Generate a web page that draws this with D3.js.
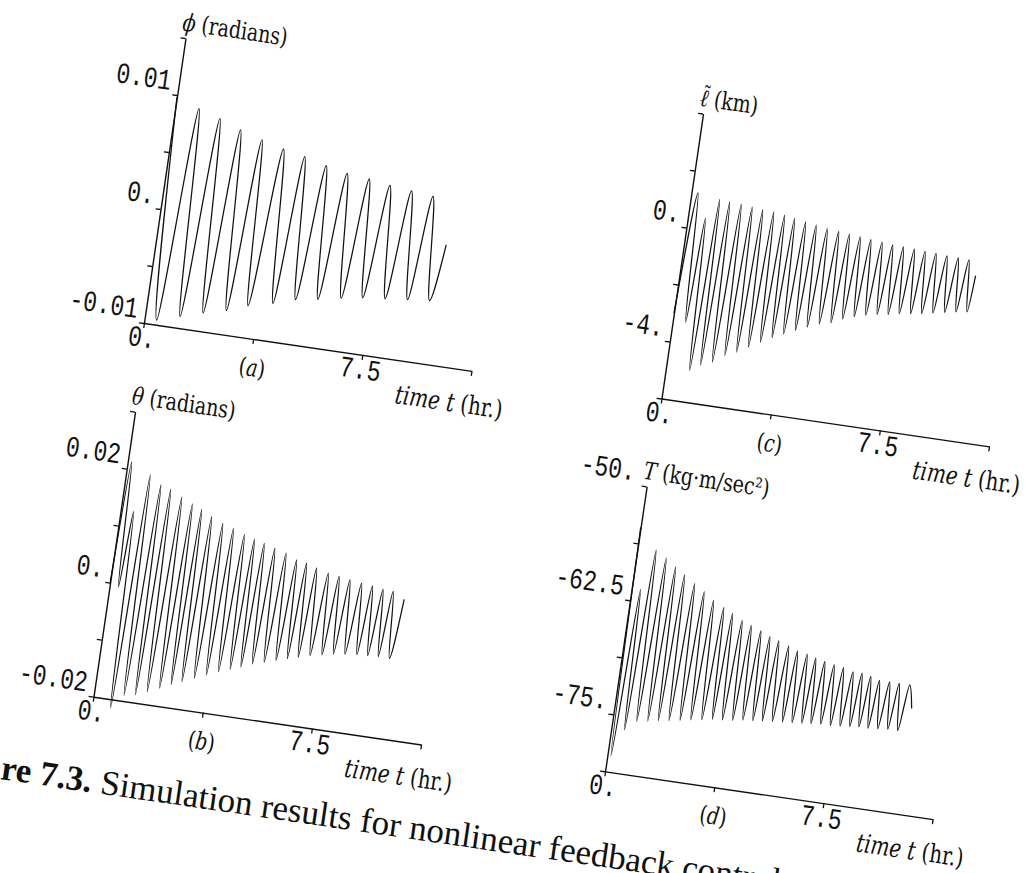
<!DOCTYPE html>
<html>
<head>
<meta charset="utf-8">
<script src="https://cdn.jsdelivr.net/npm/d3@7"></script>
<style>
  body { margin: 0; background: #fff; }
  svg { display: block; }
</style>
</head>
<body>
<svg id="fig" width="1029" height="873"></svg>
<script>
// ---- data (extrema of each trace, hours / units) ----
const timeTicks = [0, 3.75, 7.5, 11.25];
const timeTickText = ["0.", "", "7.5", ""];

// (a) phi (radians)
const phiTicks = [-0.01, -0.005, 0, 0.005, 0.01, 0.015];
const phiTickText = ["-0.01", "", "0.", "", "0.01", ""];
const phiTimes = [0, 0.41, 0.80, 1.18, 1.55, 1.94, 2.30, 2.71, 3.07, 3.41, 3.84, 4.24, 4.59, 4.98,
  5.36, 5.73, 6.10, 6.51, 6.87, 7.23, 7.60, 7.99, 8.35, 8.75, 9.10, 9.49, 9.78];
const phiValues = [0.0098, -0.0096, 0.0091, -0.0090, 0.0085, -0.0084, 0.0078, -0.0079, 0.0072, -0.0072,
  0.0067, -0.0067, 0.0063, -0.0061, 0.0058, -0.0058, 0.0054, -0.0054, 0.0052, -0.0051, 0.0049, -0.0049,
  0.0047, -0.0047, 0.0045, -0.0045, 0.0005];

// (b) theta (radians)
const thetaTicks = [-0.02, -0.01, 0, 0.01, 0.02, 0.03];
const thetaTickText = ["-0.02", "", "0.", "", "0.02", ""];
const thetaTimes = [0, 0.13, 0.30, 0.44, 0.63,
  0.82, 1.02, 1.23, 1.40, 1.58, 1.78, 1.99, 2.18, 2.38, 2.55, 2.72, 2.90, 3.09, 3.30, 3.50, 3.69,
  3.88, 4.08, 4.28, 4.46, 4.64, 4.81, 4.99, 5.18, 5.37, 5.57, 5.77, 5.96, 6.16, 6.33, 6.51, 6.69,
  6.87, 7.08, 7.29, 7.48, 7.67, 7.86, 8.05, 8.25, 8.46, 8.65, 8.84, 9.02, 9.21, 9.38, 9.56, 9.76, 9.97];
const thetaValues = [0.000, 0.0213, -0.0005, 0.0128, -0.0215,
  0.0195, -0.0190, 0.0181, -0.0186, 0.0176, -0.0178, 0.0165, -0.0169, 0.0156, -0.0160, 0.0149, -0.0152,
  0.0139, -0.0143, 0.0130, -0.0134, 0.0124, -0.0126, 0.0116, -0.0119, 0.0111, -0.0112, 0.0106, -0.0104,
  0.0100, -0.0098, 0.0095, -0.0092, 0.0086, -0.0086, 0.0083, -0.0081, 0.0077, -0.0075, 0.0071, -0.0071,
  0.0068, -0.0067, 0.0065, -0.0064, 0.0062, -0.0062, 0.0060, -0.0061, 0.0057, -0.0060, 0.0056, -0.0060, 0.0045];

// (c) l~ (km)
const ellTicks = [-6, -4, -2, 0, 2, 4];
const ellTickText = ["", "-4.", "", "0.", "", ""];
const ellTimes = [0, 0.22, 0.44, 0.59, 0.81,
  0.98, 1.15, 1.33, 1.53, 1.73, 1.92, 2.11, 2.30, 2.48, 2.67, 2.86, 3.05, 3.24, 3.42, 3.59, 3.79,
  3.98, 4.17, 4.35, 4.55, 4.74, 4.94, 5.14, 5.33, 5.51, 5.70, 5.89, 6.08, 6.26, 6.46, 6.65, 6.84,
  7.02, 7.21, 7.39, 7.58, 7.77, 7.96, 8.14, 8.33, 8.52, 8.71, 8.90, 9.10, 9.29, 9.48, 9.66, 9.85, 9.96];
const ellValues = [-3.0, 1.25, -3.25, 0.41, -4.89,
  1.13, -4.66, 1.10, -4.49, 1.08, -4.20, 1.04, -4.03, 1.00, -3.80, 0.97, -3.57, 0.92, -3.36, 0.85, -3.17,
  0.79, -2.99, 0.73, -2.82, 0.67, -2.65, 0.63, -2.54, 0.59, -2.36, 0.55, -2.23, 0.51, -2.11, 0.48, -2.03,
  0.44, -1.97, 0.42, -1.90, 0.40, -1.84, 0.38, -1.78, 0.36, -1.70, 0.33, -1.62, 0.32, -1.55, 0.30, -1.49, -0.2];

// (d) T (kg m / sec^2)
const tensionTicks = [-81.25, -75, -68.75, -62.5, -56.25, -50];
const tensionTickText = ["", "-75.", "", "-62.5", "", "-50."];
const tensionTimes = [0, 0.12, 0.30, 0.45,
  0.63, 0.82, 1.01, 1.19, 1.37, 1.54, 1.71, 1.90, 2.09, 2.27, 2.45, 2.63, 2.81, 3.00, 3.19, 3.35,
  3.51, 3.69, 3.87, 4.04, 4.20, 4.38, 4.55, 4.72, 4.88, 5.04, 5.20, 5.38, 5.56, 5.72, 5.88, 6.05,
  6.22, 6.38, 6.53, 6.69, 6.85, 7.02, 7.18, 7.35, 7.51, 7.68, 7.85, 8.01, 8.16, 8.32, 8.47, 8.63,
  8.78, 8.96, 9.13, 9.30, 9.46, 9.64, 9.82, 10.0];
const tensionValues = [-54.5, -79.5, -61.2, -76.5,
  -56.7, -75.4, -57.4, -75.2, -58.2, -75.0, -58.9, -74.8, -59.7, -74.6, -60.4, -74.4, -61.2, -74.2, -61.8, -74.0,
  -62.3, -73.9, -62.9, -73.8, -63.3, -73.6, -63.7, -73.5, -64.2, -73.4, -64.5, -73.3, -64.9, -73.2, -65.3, -73.1,
  -65.5, -73.0, -65.8, -72.9, -66.0, -72.8, -66.2, -72.8, -66.4, -72.7, -66.7, -72.6, -66.7, -72.5, -66.9, -72.5,
  -67.2, -72.4, -67.2, -72.3, -67.2, -72.3, -67.2, -69.7];

// ---- layout ----
const axisW = 331, axisH = 288;
const stretch = 1.28;          // figure lettering is taller than wide in the scan
const monoFont = "'Liberation Mono', 'Courier New', monospace";
const serifFont = "'DejaVu Serif', serif";

const svg = d3.select("#fig");
// whole page is scanned at a tilt
const page = svg.append("g").attr("transform", "translate(144,323) rotate(8.3)");

const tx = d3.scaleLinear().domain([0, 11.25]).range([0, axisW]);

const panels = [
  { ox: 0, oy: 0, ticks: phiTicks, text: phiTickText, times: phiTimes, values: phiValues, tag: "a",
    symbol: "ϕ", unit: " (radians)", tilde: false, topLabelX: -8 },
  { ox: 4, oy: 377, ticks: thetaTicks, text: thetaTickText, times: thetaTimes, values: thetaValues, tag: "b",
    symbol: "θ", unit: " (radians)", tilde: false, topLabelX: -8 },
  { ox: 523, oy: 0, ticks: ellTicks, text: ellTickText, times: ellTimes, values: ellValues, tag: "c",
    symbol: "ℓ", unit: " (km)", tilde: true, topLabelX: -8 },
  { ox: 521, oy: 377, ticks: tensionTicks, text: tensionTickText, times: tensionTimes, values: tensionValues, tag: "d",
    symbol: "T", unit: " (kg·m/sec²)", tilde: false, topLabelX: -13 }
];

function stretchedText(parent, x, y, anchor, font, size) {
  return parent.append("text")
    .attr("transform", `translate(${x},${y}) scale(1,${stretch})`)
    .attr("text-anchor", anchor)
    .attr("font-family", font)
    .attr("font-size", size)
    .attr("fill", "#111");
}

panels.forEach(p => {
  const g = page.append("g").attr("transform", `translate(${p.ox},${p.oy})`);
  const y = d3.scaleLinear().domain([p.ticks[0], p.ticks[p.ticks.length - 1]]).range([0, -axisH]);

  // axes
  const xAxis = g.append("g")
    .call(d3.axisBottom(tx).tickValues(timeTicks).tickSize(5).tickSizeOuter(0).tickFormat(""));
  const yAxis = g.append("g")
    .call(d3.axisLeft(y).tickValues(p.ticks).tickSize(5).tickSizeOuter(0).tickFormat(""));
  [xAxis, yAxis].forEach(a => {
    a.select(".domain").attr("stroke", "#111").attr("stroke-width", 1.4);
    a.selectAll(".tick line").attr("stroke", "#111").attr("stroke-width", 1.3);
  });

  // trace
  const pts = p.times.map((t, i) => [t, p.values[i]]);
  g.append("path")
    .datum(pts)
    .attr("fill", "none")
    .attr("stroke", "#111")
    .attr("stroke-width", 1.25)
    .attr("stroke-linejoin", "round")
    .attr("d", d3.line().x(d => tx(d[0])).y(d => y(d[1])).curve(d3.curveMonotoneX));

  // y tick labels
  p.ticks.forEach((v, i) => {
    if (!p.text[i]) return;
    const lx = i === p.ticks.length - 1 ? p.topLabelX : -8;
    stretchedText(g, lx, y(v) - 4, "end", monoFont, 23).text(p.text[i]);
  });

  // x tick labels
  timeTicks.forEach((t, i) => {
    if (!timeTickText[i]) return;
    stretchedText(g, tx(t), 24, "middle", monoFont, 23).text(timeTickText[i]);
  });

  // panel tag under the 3.75 tick
  const tag = stretchedText(g, tx(3.75) + 3, 37, "middle", serifFont, 19);
  tag.append("tspan").text("(");
  tag.append("tspan").attr("font-style", "italic").text(p.tag);
  tag.append("tspan").text(")");

  // axis titles
  const xt = stretchedText(g, 259, 43, "start", serifFont, 20);
  xt.append("tspan").attr("font-style", "italic").text("time t");
  xt.append("tspan").text(" (hr.)");

  const yt = stretchedText(g, -5, -axisH - 7, "start", serifFont, 19);
  yt.append("tspan").attr("font-style", "italic").text(p.symbol);
  yt.append("tspan").text(p.unit);
  if (p.tilde) {
    stretchedText(g, 1, -axisH - 12, "middle", serifFont, 17).text("˜");
  }
});

// book caption, partly outside the scanned page area
const cap = page.append("text")
  .attr("transform", "translate(-145,472)")
  .attr("font-family", "'Liberation Serif', serif")
  .attr("font-size", 35)
  .attr("fill", "#111");
cap.append("tspan").attr("font-weight", "bold").text("Figure 7.3.");
cap.append("tspan").text(" Simulation results for nonlinear feedback control");
</script>
</body>
</html>
